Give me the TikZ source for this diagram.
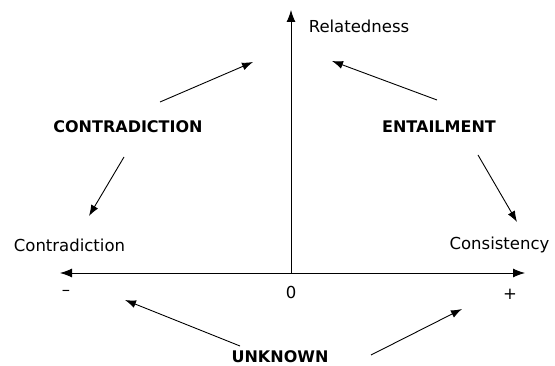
\documentclass[tikz,border=0pt]{standalone}
\usepackage{fontspec}
\setmainfont{DejaVu Sans}
\usetikzlibrary{arrows.meta}
\begin{document}
\begin{tikzpicture}[x=1pt,y=-1pt,
  lbl/.style={inner sep=0pt,font=\fontsize{16.5}{19}\selectfont},
  blbl/.style={inner sep=0pt,font=\fontsize{16}{19}\selectfont\bfseries},
  arr/.style={-{Latex[length=11pt,width=8pt]},line width=0.9pt},
  ax/.style={-{Latex[length=12pt,width=9pt]},line width=0.9pt}]
\useasboundingbox (0,0) rectangle (555,366);
% axes
\coordinate (O) at (291,273);
\coordinate (L) at (60,273);
\coordinate (R) at (525,273);
\coordinate (T) at (291,10);
\draw[ax] (O) -- (L);
\draw[ax] (O) -- (R);
\draw[ax] (O) -- (T);
% labels
\node[lbl] (rel) at (359,26) {Relatedness};
\node[lbl] (con) at (69.5,245) {Contradiction};
\node[lbl] (cons) at (499.5,245) {Consistency};
\node[lbl] (minus) at (66,293) {–};
\node[lbl] (zero) at (291,292) {0};
\node[lbl] (plus) at (510,294) {+};
\node[blbl] (C) at (128,127) {CONTRADICTION};
\node[blbl] (E) at (439,127) {ENTAILMENT};
\node[blbl] (U) at (280,357) {UNKNOWN};
% arrow endpoints
\coordinate (c1s) at (160,102); \coordinate (c1e) at (253,62);
\coordinate (c2s) at (124,157); \coordinate (c2e) at (89,216);
\coordinate (e1s) at (437,100); \coordinate (e1e) at (332,61);
\coordinate (e2s) at (478,155); \coordinate (e2e) at (517,222);
\coordinate (u1s) at (240,346); \coordinate (u1e) at (125,300);
\coordinate (u2s) at (371,355); \coordinate (u2e) at (462,309);
\draw[arr] (c1s) -- (c1e);
\draw[arr] (c2s) -- (c2e);
\draw[arr] (e1s) -- (e1e);
\draw[arr] (e2s) -- (e2e);
\draw[arr] (u1s) -- (u1e);
\draw[arr] (u2s) -- (u2e);
\end{tikzpicture}
\end{document}
